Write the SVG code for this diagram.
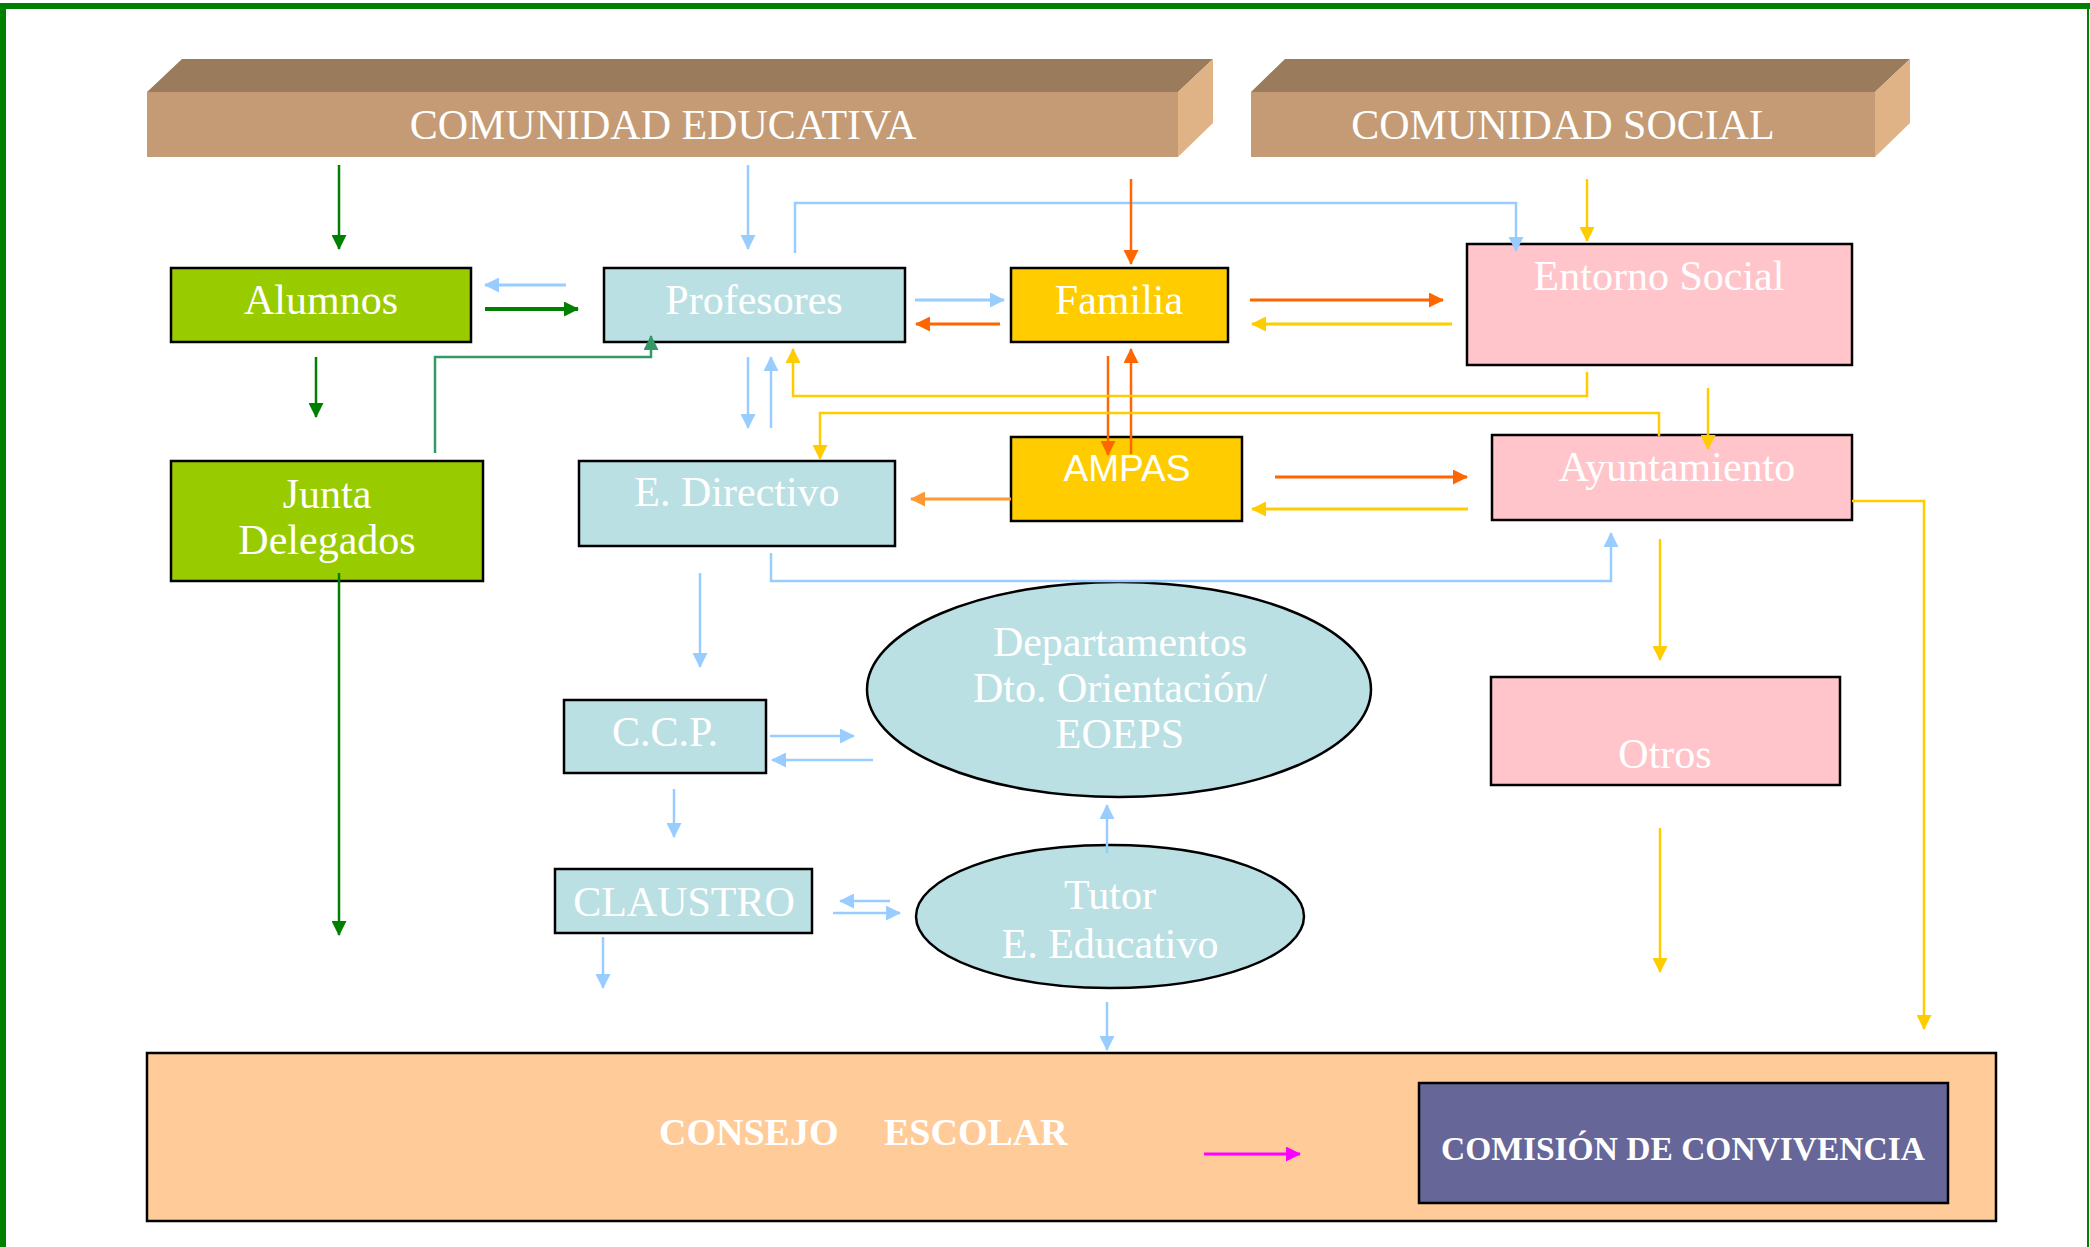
<svg xmlns="http://www.w3.org/2000/svg" width="2090" height="1247" viewBox="0 0 2090 1247">
<style>
.t{font-family:"Liberation Serif","Times New Roman",serif;font-size:42px;fill:#FFFFFF;text-anchor:middle}
.tb{font-family:"Liberation Serif","Times New Roman",serif;font-weight:bold;fill:#FFFFFF}
.ts{font-family:"Liberation Sans",Arial,sans-serif;font-size:37px;fill:#FFFFFF;text-anchor:middle}
.box{stroke:#000;stroke-width:2.5}
.green{fill:#99CC00}
.teal{fill:#BBE0E3}
.yel{fill:#FFCC00}
.pink{fill:#FFC5CA}
.c{fill:none;stroke-width:2.5}
.k{stroke-width:3.2}
.g{stroke:#008000}
.sg{stroke:#339966}
.b{stroke:#99CCFF}
.o{stroke:#FF6600}
.lo{stroke:#FF9933}
.y{stroke:#FFCC00}
.m{stroke:#FF00FF}
</style>
<defs>
<marker id="aG" markerUnits="userSpaceOnUse" markerWidth="16" markerHeight="15" refX="14" refY="7.5" orient="auto"><path d="M0,0 L15,7.5 L0,15 z" fill="#008000"/></marker>
<marker id="aSG" markerUnits="userSpaceOnUse" markerWidth="16" markerHeight="15" refX="14" refY="7.5" orient="auto"><path d="M0,0 L15,7.5 L0,15 z" fill="#339966"/></marker>
<marker id="aB" markerUnits="userSpaceOnUse" markerWidth="16" markerHeight="15" refX="14" refY="7.5" orient="auto"><path d="M0,0 L15,7.5 L0,15 z" fill="#99CCFF"/></marker>
<marker id="aO" markerUnits="userSpaceOnUse" markerWidth="16" markerHeight="15" refX="14" refY="7.5" orient="auto"><path d="M0,0 L15,7.5 L0,15 z" fill="#FF6600"/></marker>
<marker id="aLO" markerUnits="userSpaceOnUse" markerWidth="16" markerHeight="15" refX="14" refY="7.5" orient="auto"><path d="M0,0 L15,7.5 L0,15 z" fill="#FF9933"/></marker>
<marker id="aY" markerUnits="userSpaceOnUse" markerWidth="16" markerHeight="15" refX="14" refY="7.5" orient="auto"><path d="M0,0 L15,7.5 L0,15 z" fill="#FFCC00"/></marker>
<marker id="aM" markerUnits="userSpaceOnUse" markerWidth="16" markerHeight="15" refX="14" refY="7.5" orient="auto"><path d="M0,0 L15,7.5 L0,15 z" fill="#FF00FF"/></marker>
</defs>
<rect width="2090" height="1247" fill="#FFFFFF"/>
<g id="frame" fill="#008000">
<rect x="0" y="3" width="2090" height="6"/>
<rect x="0" y="3" width="6" height="1244"/>
<rect x="2087" y="3" width="2" height="1244"/>
</g>

<g id="comunidad-educativa">
<polygon points="147,92 182,59 1213,59 1178,92" fill="#9A7B5C"/>
<polygon points="1178,92 1213,59 1213,123 1178,157" fill="#DFB386"/>
<rect x="147" y="92" width="1031" height="65" fill="#C49B74"/>
<text class="t" x="663" y="139">COMUNIDAD EDUCATIVA</text>
</g>
<g id="comunidad-social">
<polygon points="1251,92 1285,59 1910,59 1875,92" fill="#9A7B5C"/>
<polygon points="1875,92 1910,59 1910,123 1875,157" fill="#DFB386"/>
<rect x="1251" y="92" width="624" height="65" fill="#C49B74"/>
<text class="t" x="1563" y="139">COMUNIDAD SOCIAL</text>
</g>

<g id="alumnos"><rect class="box green" x="171" y="268" width="300" height="74"/><text class="t" x="321" y="314">Alumnos</text></g>
<g id="profesores"><rect class="box teal" x="604" y="268" width="301" height="74"/><text class="t" x="754" y="314">Profesores</text></g>
<g id="familia"><rect class="box yel" x="1011" y="268" width="217" height="74"/><text class="t" x="1119" y="314">Familia</text></g>
<g id="entorno-social"><rect class="box pink" x="1467" y="244" width="385" height="121"/><text class="t" x="1659" y="290">Entorno Social</text></g>
<g id="junta-delegados"><rect class="box green" x="171" y="461" width="312" height="120"/><text class="t" x="327" y="508">Junta</text><text class="t" x="327" y="554">Delegados</text></g>
<g id="e-directivo"><rect class="box teal" x="579" y="461" width="316" height="85"/><text class="t" x="737" y="506">E. Directivo</text></g>
<g id="ampas"><rect class="box yel" x="1011" y="437" width="231" height="84"/><text class="ts" x="1127" y="481">AMPAS</text></g>
<g id="ayuntamiento"><rect class="box pink" x="1492" y="435" width="360" height="85"/><text class="t" x="1677" y="481">Ayuntamiento</text></g>
<g id="departamentos"><ellipse class="box teal" cx="1119" cy="689.5" rx="252" ry="107.5"/><text class="t" x="1120" y="656">Departamentos</text><text class="t" x="1120" y="702">Dto. Orientación/</text><text class="t" x="1120" y="748">EOEPS</text></g>
<g id="ccp"><rect class="box teal" x="564" y="700" width="202" height="73"/><text class="t" x="665" y="746">C.C.P.</text></g>
<g id="otros"><rect class="box pink" x="1491" y="677" width="349" height="108"/><text class="t" x="1665" y="768">Otros</text></g>
<g id="claustro"><rect class="box teal" x="555" y="869" width="257" height="64"/><text class="t" x="684" y="916">CLAUSTRO</text></g>
<g id="tutor"><ellipse class="box teal" cx="1110" cy="916.5" rx="194" ry="71.5"/><text class="t" x="1110" y="909">Tutor</text><text class="t" x="1110" y="958">E. Educativo</text></g>
<g id="consejo-escolar"><rect class="box" fill="#FFCC99" x="147" y="1053" width="1849" height="168"/><text class="tb" font-size="38" y="1145"><tspan x="659">CONSEJO </tspan><tspan x="884">ESCOLAR</tspan></text></g>
<g id="comision-convivencia"><rect class="box" fill="#666699" x="1419" y="1083" width="529" height="120"/><text class="tb" font-size="33.5" x="1683" y="1160" text-anchor="middle">COMISIÓN DE CONVIVENCIA</text></g>

<g id="connectors">
<path class="c g" d="M339,165 V249" marker-end="url(#aG)"/>
<path class="c g" d="M316,357 V417" marker-end="url(#aG)"/>
<path class="c g" d="M339,573 V935" marker-end="url(#aG)"/>
<path class="c g" style="stroke-width:4" d="M485,309 H578" marker-end="url(#aG)"/>
<path class="c sg" d="M435,453 V357 H651 V336" marker-end="url(#aSG)"/>

<path class="c b" d="M748,165 V249" marker-end="url(#aB)"/>
<path class="c b" d="M795,253 V203 H1516 V251" marker-end="url(#aB)"/>
<path class="c b k" d="M566,285 H485" marker-end="url(#aB)"/>
<path class="c b k" d="M915,300 H1004" marker-end="url(#aB)"/>
<path class="c b" d="M748,357 V428" marker-end="url(#aB)"/>
<path class="c b" d="M771,428 V357" marker-end="url(#aB)"/>
<path class="c b" d="M771,553 V581 H1611 V533" marker-end="url(#aB)"/>
<path class="c b" d="M700,573 V667" marker-end="url(#aB)"/>
<path class="c b" d="M770,736 H854" marker-end="url(#aB)"/>
<path class="c b" d="M873,760 H772" marker-end="url(#aB)"/>
<path class="c b" d="M674,789 V837" marker-end="url(#aB)"/>
<path class="c b" d="M603,937 V988" marker-end="url(#aB)"/>
<path class="c b" d="M890,901 H840" marker-end="url(#aB)"/>
<path class="c b" d="M833,913 H900" marker-end="url(#aB)"/>
<path class="c b" d="M1107,853 V805" marker-end="url(#aB)"/>
<path class="c b" d="M1107,1002 V1050" marker-end="url(#aB)"/>

<path class="c o" d="M1131,179 V264" marker-end="url(#aO)"/>
<path class="c o k" d="M1000,324 H916" marker-end="url(#aO)"/>
<path class="c o k" d="M1250,300 H1443" marker-end="url(#aO)"/>
<path class="c o" d="M1108,356 V455" marker-end="url(#aO)"/>
<path class="c o" d="M1131,454 V349" marker-end="url(#aO)"/>
<path class="c o k" d="M1275,477 H1467" marker-end="url(#aO)"/>
<path class="c lo k" d="M1011,499 H911" marker-end="url(#aLO)"/>

<path class="c y" d="M1587,179 V241" marker-end="url(#aY)"/>
<path class="c y k" d="M1452,324 H1252" marker-end="url(#aY)"/>
<path class="c y" d="M1587,372 V396 H793 V349" marker-end="url(#aY)"/>
<path class="c y" d="M1659,436 V413 H820 V459" marker-end="url(#aY)"/>
<path class="c y" d="M1708,388 V449" marker-end="url(#aY)"/>
<path class="c y k" d="M1468,509 H1252" marker-end="url(#aY)"/>
<path class="c y" d="M1852,501 H1924 V1029" marker-end="url(#aY)"/>
<path class="c y" d="M1660,539 V660" marker-end="url(#aY)"/>
<path class="c y" d="M1660,828 V972" marker-end="url(#aY)"/>

<path class="c m k" d="M1204,1154 H1300" marker-end="url(#aM)"/>
</g>
</svg>
